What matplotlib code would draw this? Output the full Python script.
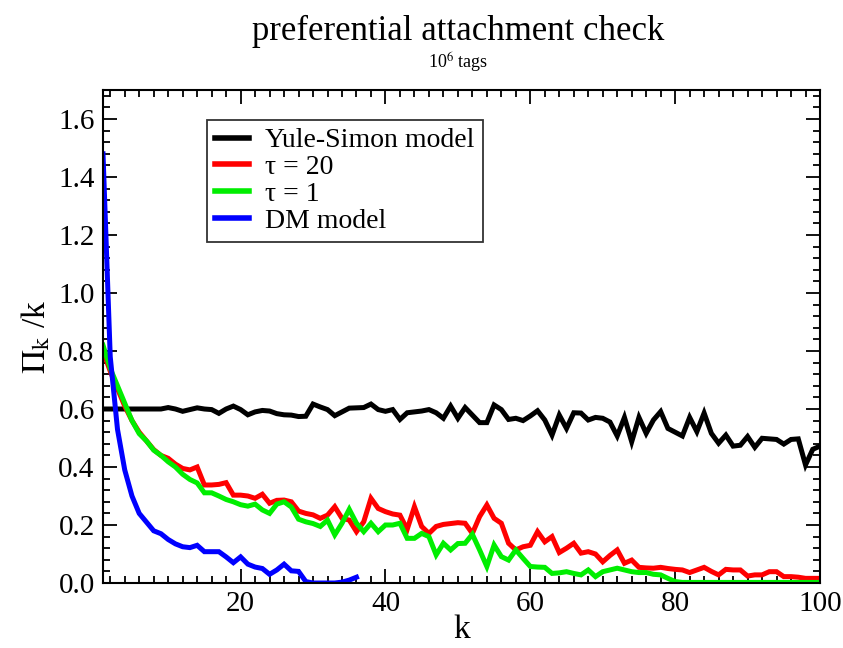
import matplotlib
matplotlib.use("Agg")
import matplotlib.pyplot as plt
from matplotlib.ticker import MultipleLocator, FormatStrFormatter

plt.rcParams['font.family'] = ['Liberation Serif', 'DejaVu Serif']
plt.rcParams['mathtext.fontset'] = 'stix'

# k = 1 .. 100
k = list(range(1, 101))

yule_simon = [
    0.600, 0.600, 0.600, 0.600, 0.600, 0.600, 0.600, 0.600, 0.600, 0.605,
    0.600, 0.592, 0.598, 0.604, 0.600, 0.598, 0.585, 0.600, 0.610, 0.598,
    0.580, 0.590, 0.595, 0.593, 0.584, 0.580, 0.579, 0.574, 0.575, 0.617,
    0.607, 0.598, 0.577, 0.590, 0.603, 0.604, 0.605, 0.617, 0.598, 0.592,
    0.598, 0.564, 0.587, 0.590, 0.593, 0.598, 0.587, 0.568, 0.610, 0.568,
    0.605, 0.579, 0.553, 0.553, 0.614, 0.598, 0.564, 0.568, 0.560, 0.576,
    0.594, 0.562, 0.510, 0.579, 0.533, 0.587, 0.586, 0.562, 0.571, 0.568,
    0.555, 0.507, 0.571, 0.487, 0.571, 0.516, 0.562, 0.591, 0.533, 0.520,
    0.507, 0.571, 0.522, 0.586, 0.516, 0.482, 0.510, 0.472, 0.475, 0.505,
    0.468, 0.499, 0.497, 0.495, 0.479, 0.495, 0.497, 0.407, 0.461, 0.472,
]

tau20 = [
    0.800, 0.730, 0.670, 0.610, 0.560, 0.520, 0.490, 0.460, 0.440, 0.430,
    0.410, 0.395, 0.390, 0.400, 0.338, 0.338, 0.340, 0.346, 0.303, 0.303,
    0.300, 0.292, 0.306, 0.275, 0.285, 0.286, 0.280, 0.248, 0.240, 0.235,
    0.223, 0.234, 0.263, 0.223, 0.217, 0.177, 0.211, 0.292, 0.257, 0.246,
    0.238, 0.234, 0.185, 0.263, 0.195, 0.171, 0.195, 0.202, 0.205, 0.208,
    0.206, 0.171, 0.229, 0.269, 0.223, 0.206, 0.137, 0.114, 0.125, 0.130,
    0.177, 0.142, 0.160, 0.105, 0.120, 0.137, 0.103, 0.108, 0.100, 0.073,
    0.095, 0.114, 0.068, 0.079, 0.054, 0.052, 0.051, 0.054, 0.050, 0.047,
    0.045, 0.036, 0.045, 0.054, 0.040, 0.028, 0.047, 0.045, 0.045, 0.024,
    0.028, 0.028, 0.039, 0.039, 0.022, 0.022, 0.020, 0.016, 0.016, 0.016,
]

tau1 = [
    0.820, 0.740, 0.680, 0.620, 0.560, 0.515, 0.490, 0.458, 0.440, 0.418,
    0.400, 0.375, 0.357, 0.345, 0.311, 0.311, 0.300, 0.288, 0.280, 0.270,
    0.265, 0.272, 0.252, 0.240, 0.272, 0.280, 0.262, 0.220, 0.211, 0.205,
    0.195, 0.217, 0.166, 0.206, 0.254, 0.206, 0.177, 0.206, 0.177, 0.200,
    0.200, 0.206, 0.154, 0.154, 0.171, 0.160, 0.097, 0.137, 0.114, 0.136,
    0.137, 0.168, 0.114, 0.057, 0.131, 0.091, 0.079, 0.114, 0.085, 0.057,
    0.055, 0.054, 0.033, 0.035, 0.039, 0.033, 0.028, 0.045, 0.022, 0.039,
    0.045, 0.051, 0.045, 0.039, 0.036, 0.036, 0.030, 0.028, 0.016, 0.005,
    0.002, 0.002, 0.002, 0.002, 0.002, 0.002, 0.002, 0.002, 0.002, 0.002,
    0.002, 0.002, 0.002, 0.002, 0.002, 0.002, 0.002, 0.002, 0.002, 0.002,
]

# DM model only covers k = 1 .. 36
k_dm = list(range(1, 37))
dm_model = [
    1.480, 0.780, 0.530, 0.390, 0.300, 0.240, 0.210, 0.180, 0.170, 0.150,
    0.135, 0.125, 0.122, 0.130, 0.108, 0.108, 0.108, 0.090, 0.070, 0.090,
    0.065, 0.055, 0.050, 0.030, 0.045, 0.065, 0.042, 0.040, 0.005, 0.000,
    0.000, 0.000, 0.000, 0.003, 0.010, 0.020,
]

labels = ["Yule-Simon model", "τ = 20", "τ = 1", "DM model"]
colors = ["#000000", "#ff0000", "#00ee00", "#0000ff"]

fig = plt.figure(figsize=(8.43, 6.48), dpi=100)
ax = fig.add_axes([103 / 843, 1 - 583 / 648, (820 - 103) / 843, (583 - 90) / 648])

lw = 3.6
ax.plot(k, yule_simon, color=colors[0], lw=lw, label=labels[0], solid_joinstyle='miter')
ax.plot(k, tau20, color=colors[1], lw=lw, label=labels[1], solid_joinstyle='miter')
ax.plot(k, tau1, color=colors[2], lw=lw, label=labels[2], solid_joinstyle='miter')
ax.plot(k_dm, dm_model, color=colors[3], lw=lw, label=labels[3], solid_joinstyle='miter')

ax.set_xlim(1, 100)
ax.set_ylim(0, 1.7)
ax.xaxis.set_major_locator(MultipleLocator(20))
ax.xaxis.set_minor_locator(MultipleLocator(2))
ax.yaxis.set_major_locator(MultipleLocator(0.2))
ax.yaxis.set_minor_locator(MultipleLocator(0.04))
ax.yaxis.set_major_formatter(FormatStrFormatter('%.1f'))

ax.tick_params(which='both', direction='in', top=True, right=True,
               labelsize=21, width=1.3, pad=6)
ax.tick_params(which='major', length=10)
ax.tick_params(which='minor', length=5)
for s in ax.spines.values():
    s.set_linewidth(1.5)

ax.set_xlabel("k", fontsize=24, labelpad=-2)
ax.set_ylabel(r"$\mathrm{\Pi}_{\mathrm{k}}$ /k", fontsize=24, labelpad=4)

fig.text(0.544, 0.952, "preferential attachment check", fontsize=25,
         ha='center', va='center')
fig.text(0.544, 0.903, r"10$^{6}$ tags", fontsize=13, ha='center', va='center')

leg = ax.legend(loc='upper left', bbox_to_anchor=(0.145, 0.94), fontsize=20,
                frameon=True, fancybox=False, edgecolor='black',
                handlelength=1.2, handletextpad=0.6, labelspacing=0.05,
                borderpad=0.3, borderaxespad=0)
leg.get_frame().set_linewidth(1.3)
for line in leg.get_lines():
    line.set_linewidth(4)

fig.savefig("out.png", dpi=100)
